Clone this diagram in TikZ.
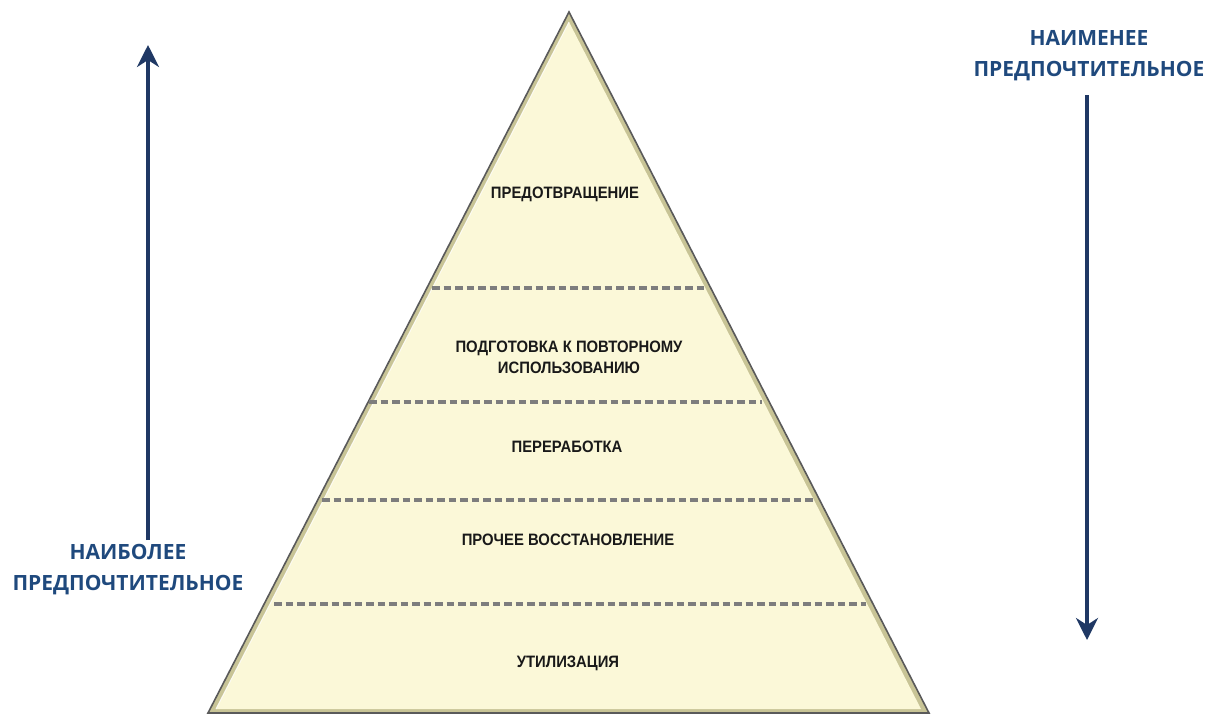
\documentclass[tikz,border=0pt]{standalone}
\usepackage{fontspec}
\setmainfont{Liberation Sans}
\newfontfamily\bluefont{Open Sans}
\newfontfamily\levelfont[FakeStretch=0.9]{Liberation Sans}
\usetikzlibrary{arrows.meta}
\definecolor{pyrfill}{RGB}{251,248,216}
\definecolor{pyredge}{RGB}{90,90,90}
\definecolor{pyrshade}{RGB}{200,196,150}
\definecolor{dashgray}{RGB}{125,125,125}
\definecolor{navy}{RGB}{31,56,100}
\definecolor{headblue}{RGB}{31,73,125}
\begin{document}
\begin{tikzpicture}[x=1pt,y=-1pt,
  levellabel/.style={font=\levelfont\fontsize{16.5}{21}\selectfont\bfseries, text=black!90, align=center, inner sep=0pt},
  sidelabel/.style={font=\bluefont\fontsize{21}{31}\selectfont\bfseries, text=headblue, align=center, inner sep=0pt},
  levelline/.style={draw=dashgray, line width=3.4pt, dash pattern=on 7.5pt off 4pt},
  bigarrow/.style={draw=navy, line width=3.5pt, -{Stealth[length=22pt,width=22pt,inset=7pt]}}
]
\useasboundingbox (0,0) rectangle (1211,715);
% pyramid
\coordinate (apex) at (569,12);
\coordinate (bl) at (208,713);
\coordinate (br) at (929,713);
\fill[pyrshade] (apex) -- (bl) -- (br) -- cycle;
\fill[pyrfill] (569,22) -- (216,709) -- (921,709) -- cycle;
\draw[white, line width=1pt, opacity=0.8] (216,709) -- (569,22);
\draw[pyredge, line width=1.6pt, line join=miter] (apex) -- (bl) -- (br) -- cycle;
% level separators
\coordinate (d1l) at (432,288); \coordinate (d1r) at (705,288);
\coordinate (d2l) at (369,402); \coordinate (d2r) at (762,402);
\coordinate (d3l) at (322,500); \coordinate (d3r) at (815,500);
\coordinate (d4l) at (274,604); \coordinate (d4r) at (866,604);
\draw[levelline] (d1l) -- (d1r);
\draw[levelline] (d2l) -- (d2r);
\draw[levelline] (d3l) -- (d3r);
\draw[levelline] (d4l) -- (d4r);
% level labels
\node[levellabel] (l1) at (565,194) {ПРЕДОТВРАЩЕНИЕ};
\node[levellabel] (l2) at (569,357) {ПОДГОТОВКА К ПОВТОРНОМУ\\ИСПОЛЬЗОВАНИЮ};
\node[levellabel] (l3) at (567,447) {ПЕРЕРАБОТКА};
\node[levellabel] (l4) at (568,540) {ПРОЧЕЕ ВОССТАНОВЛЕНИЕ};
\node[levellabel] (l5) at (568,663) {УТИЛИЗАЦИЯ};
% side labels
\node[sidelabel] (most) at (128,570) {НАИБОЛЕЕ\\ПРЕДПОЧТИТЕЛЬНОЕ};
\node[sidelabel] (least) at (1089,56) {НАИМЕНЕЕ\\ПРЕДПОЧТИТЕЛЬНОЕ};
% arrows
\coordinate (uptail) at (148,540);
\coordinate (uptip) at (148,45);
\coordinate (downtail) at (1087,95);
\coordinate (downtip) at (1087,640);
\draw[bigarrow] (uptail) -- (uptip);
\draw[bigarrow] (downtail) -- (downtip);
\end{tikzpicture}
\end{document}
